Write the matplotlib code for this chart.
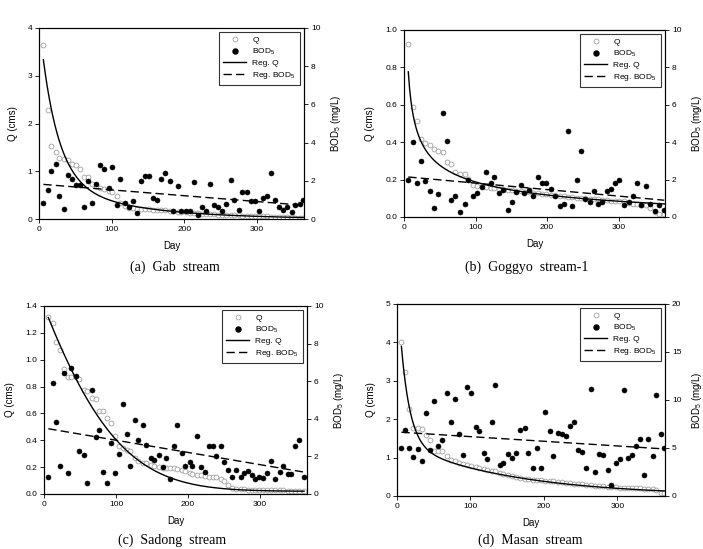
import numpy as np
import matplotlib
matplotlib.use("Agg")
import matplotlib.pyplot as plt
from matplotlib.lines import Line2D

plt.rcParams['font.family'] = ['Liberation Sans', 'DejaVu Sans']
plt.rcParams['mathtext.default'] = 'regular'

# (a) Gab stream
day_a = [6, 12, 17, 23, 28, 34, 40, 45, 51, 56, 62, 68, 73, 79, 84, 90, 96, 101, 107, 112,
         118, 124, 129, 135, 140, 146, 152, 157, 163, 168, 174, 180, 185, 191, 196, 202, 208,
         213, 219, 224, 230, 236, 241, 247, 252, 258, 264, 269, 275, 280, 286, 292, 297, 303,
         308, 314, 320, 325, 331, 336, 342, 348, 353, 359, 364]
q_a = [3.65, 2.28, 1.52, 1.40, 1.28, 1.26, 1.23, 1.16, 1.13, 1.05, 0.89, 0.89, 0.74, 0.70,
       0.65, 0.63, 0.58, 0.56, 0.49, 0.33, 0.28, 0.24, 0.22, 0.21, 0.20, 0.20, 0.20, 0.19,
       0.19, 0.18, 0.18, 0.17, 0.16, 0.15, 0.15, 0.14, 0.13, 0.13, 0.12, 0.11, 0.11, 0.10,
       0.10, 0.09, 0.09, 0.09, 0.08, 0.08, 0.08, 0.07, 0.07, 0.07, 0.06, 0.06, 0.06, 0.06,
       0.05, 0.05, 0.05, 0.04, 0.04, 0.04, 0.03, 0.03, 0.03]
bod_a = [0.84, 1.50, 2.53, 2.90, 1.22, 0.52, 2.32, 2.11, 1.80, 1.76, 0.61, 2.00, 0.82, 1.83,
         2.81, 2.62, 1.61, 2.72, 0.72, 2.11, 0.84, 0.61, 0.92, 0.31, 2.00, 2.23, 2.23, 1.12,
         1.01, 2.09, 2.41, 2.00, 0.40, 1.71, 0.40, 0.40, 0.40, 1.92, 0.23, 0.63, 0.40, 1.81,
         0.72, 0.63, 0.40, 0.80, 2.02, 1.01, 0.49, 1.41, 1.41, 0.92, 0.92, 0.40, 1.10, 1.22,
         2.41, 1.01, 0.63, 0.49, 0.63, 0.37, 0.72, 0.80, 1.01]

# (b) Goggyo stream-1
day_b = [6, 12, 18, 24, 30, 36, 42, 48, 54, 60, 66, 72, 78, 85, 90, 97, 102, 109, 114, 121,
         126, 133, 139, 145, 151, 157, 164, 168, 175, 181, 188, 193, 199, 206, 211, 218, 224,
         230, 235, 242, 247, 253, 260, 266, 272, 277, 284, 289, 295, 301, 308, 314, 320, 326,
         332, 339, 344, 351, 357, 364]
q_b = [0.925, 0.59, 0.516, 0.418, 0.395, 0.383, 0.365, 0.352, 0.347, 0.294, 0.281, 0.24,
       0.231, 0.228, 0.205, 0.17, 0.167, 0.164, 0.16, 0.157, 0.154, 0.151, 0.148, 0.145,
       0.143, 0.14, 0.137, 0.135, 0.132, 0.13, 0.127, 0.124, 0.121, 0.119, 0.116, 0.113,
       0.11, 0.108, 0.106, 0.104, 0.102, 0.10, 0.098, 0.096, 0.094, 0.092, 0.09, 0.088,
       0.086, 0.085, 0.083, 0.076, 0.07, 0.068, 0.066, 0.062, 0.05, 0.025, 0.018, 0.015]
bod_b = [1.99, 4.0, 1.81, 3.02, 1.92, 1.39, 0.50, 1.21, 5.57, 4.09, 0.89, 1.10, 0.28, 0.71,
         1.99, 1.10, 1.28, 1.60, 2.40, 1.81, 2.14, 1.28, 1.42, 0.39, 0.80, 1.33, 1.69, 1.28,
         1.42, 1.12, 2.14, 1.81, 1.81, 1.51, 1.10, 0.60, 0.71, 4.59, 0.60, 1.99, 3.52, 0.98,
         0.80, 1.39, 0.71, 0.80, 1.39, 1.51, 1.81, 1.99, 0.62, 0.80, 1.10, 1.81, 0.62, 1.64,
         0.71, 0.32, 0.62, 0.39]

# (c) Sadong stream
day_c = [6, 12, 17, 22, 28, 34, 38, 44, 49, 55, 60, 66, 72, 77, 82, 87, 93, 99, 104, 109,
         115, 120, 126, 131, 137, 142, 148, 153, 159, 165, 169, 175, 180, 185, 191, 196, 202,
         206, 212, 218, 223, 229, 234, 239, 245, 250, 256, 261, 267, 273, 278, 283, 288, 293,
         299, 304, 310, 315, 321, 327, 332, 338, 343, 349, 354, 361]
q_c = [1.32, 1.275, 1.135, 1.07, 0.93, 0.87, 0.87, 0.87, 0.86, 0.775, 0.77, 0.715, 0.705,
       0.62, 0.615, 0.565, 0.53, 0.43, 0.355, 0.345, 0.33, 0.32, 0.265, 0.245, 0.23, 0.23,
       0.215, 0.205, 0.2, 0.195, 0.19, 0.19, 0.19, 0.185, 0.18, 0.175, 0.16, 0.15, 0.145,
       0.14, 0.135, 0.13, 0.13, 0.125, 0.11, 0.1, 0.065, 0.045, 0.04, 0.035, 0.035, 0.033,
       0.032, 0.032, 0.03, 0.03, 0.03, 0.03, 0.028, 0.028, 0.027, 0.026, 0.025, 0.024,
       0.022, 0.02]
bod_c = [0.89, 5.91, 3.81, 1.51, 6.44, 1.10, 6.71, 6.30, 2.31, 2.08, 0.60, 5.52, 3.01, 3.42,
         1.19, 0.60, 2.70, 1.10, 2.12, 4.80, 3.20, 1.51, 3.91, 2.88, 3.68, 2.58, 1.90, 1.81,
         2.08, 1.41, 1.90, 0.80, 2.53, 3.68, 2.17, 1.51, 1.69, 1.51, 3.10, 1.41, 1.19, 2.53,
         2.53, 2.03, 2.53, 1.69, 1.28, 0.89, 1.28, 0.89, 1.10, 1.21, 1.01, 0.80, 0.93, 0.84,
         1.14, 1.78, 0.80, 1.19, 1.51, 1.07, 1.07, 2.53, 2.88, 0.89]

# (d) Masan stream
day_d = [6, 11, 17, 22, 28, 34, 39, 45, 50, 56, 61, 68, 73, 79, 84, 90, 95, 101, 107, 112,
         118, 123, 129, 134, 140, 145, 151, 156, 162, 168, 174, 179, 185, 191, 196, 202, 208,
         213, 219, 225, 230, 236, 241, 246, 252, 258, 264, 269, 275, 281, 287, 292, 298, 304,
         309, 314, 320, 326, 331, 337, 342, 348, 353, 359, 364]
q_d = [4.0, 3.22, 2.27, 1.77, 1.77, 1.75, 1.6, 1.47, 1.17, 1.16, 1.16, 1.03, 0.94, 0.90,
       0.86, 0.84, 0.81, 0.79, 0.76, 0.73, 0.70, 0.68, 0.66, 0.64, 0.60, 0.58, 0.55, 0.52,
       0.50, 0.47, 0.44, 0.43, 0.42, 0.42, 0.41, 0.40, 0.39, 0.38, 0.37, 0.36, 0.34, 0.33,
       0.32, 0.31, 0.30, 0.29, 0.28, 0.27, 0.26, 0.25, 0.24, 0.24, 0.23, 0.22, 0.22, 0.21,
       0.21, 0.20, 0.20, 0.19, 0.19, 0.18, 0.16, 0.08, 0.08]
bod_d = [5.05, 6.83, 5.05, 4.04, 4.91, 3.62, 8.64, 4.74, 9.86, 5.23, 5.85, 10.7, 7.67, 10.1,
         6.45, 4.25, 11.4, 10.7, 7.14, 6.79, 4.53, 3.83, 7.67, 11.6, 3.28, 3.48, 4.36, 3.94,
         4.46, 6.90, 7.07, 4.53, 2.96, 5.0, 2.9, 8.8, 6.8, 4.2, 6.55, 6.45, 6.27, 7.3, 7.67,
         4.74, 4.63, 2.9, 11.1, 2.54, 4.36, 4.29, 2.72, 1.15, 3.48, 3.83, 11.0, 3.94, 4.29,
         5.16, 5.96, 2.2, 5.96, 4.18, 10.56, 6.45, 4.98]

# regression coefficients
regq_a = (3.3, 0.043, 0.83, 0.009)        # a*exp(-b t) + c*exp(-d t)
regq_b = (1.77, -0.455, 0.0015)           # a * t**b * exp(-c t)
regq_c = (1.375, 0.009915, 2.84e-5, 0.02)  # a*exp(-b t - c t^2) + y0
regq_d = (4.17, 0.082, 1.40, 0.0065)      # a*exp(-b t) + c*exp(-d t)
regbod_a = (1.83, -0.00305)
regbod_b = (2.16, -0.00347)
regbod_c = (3.51, -0.0065)
regbod_d = (6.67, -0.00485)


def double_exp(t, p):
    return p[0]*np.exp(-p[1]*t) + p[2]*np.exp(-p[3]*t)


def power_exp(t, p):
    return p[0]*t**p[1]*np.exp(-p[2]*t)


def gauss_exp(t, p):
    return p[0]*np.exp(-p[1]*t - p[2]*t**2) + p[3]


panels = [
    dict(day=day_a, q=q_a, bod=bod_a, fq=lambda t: double_exp(t, regq_a), rb=regbod_a,
         qlim=(0, 4), qticks=[0, 1, 2, 3, 4], qfmt='%d', blim=(0, 10), bticks=[0, 2, 4, 6, 8, 10],
         pos=[39/703, 1-219/549, 265/703, 191/549], cap='(a)  Gab  stream', capxy=(175, 267)),
    dict(day=day_b, q=q_b, bod=bod_b, fq=lambda t: power_exp(t, regq_b), rb=regbod_b,
         qlim=(0, 1), qticks=[0, 0.2, 0.4, 0.6, 0.8, 1.0], qfmt='%.1f', blim=(0, 10),
         bticks=[0, 2, 4, 6, 8, 10],
         pos=[404/703, 1-217/549, 261/703, 187/549], cap='(b)  Goggyo  stream-1', capxy=(527, 267)),
    dict(day=day_c, q=q_c, bod=bod_c, fq=lambda t: gauss_exp(t, regq_c), rb=regbod_c,
         qlim=(0, 1.4), qticks=[0, 0.2, 0.4, 0.6, 0.8, 1.0, 1.2, 1.4], qfmt='%.1f', blim=(0, 10),
         bticks=[0, 2, 4, 6, 8, 10],
         pos=[44/703, 1-494/549, 263/703, 188/549], cap='(c)  Sadong  stream', capxy=(172, 540)),
    dict(day=day_d, q=q_d, bod=bod_d, fq=lambda t: double_exp(t, regq_d), rb=regbod_d,
         qlim=(0, 5), qticks=[0, 1, 2, 3, 4, 5], qfmt='%d', blim=(0, 20), bticks=[0, 5, 10, 15, 20],
         pos=[397/703, 1-496/549, 268/703, 192/549], cap='(d)  Masan  stream', capxy=(530, 540)),
]

fig = plt.figure(figsize=(7.03, 5.49), dpi=100)

for pn in panels:
    ax = fig.add_axes(pn['pos'])
    ax2 = ax.twinx()
    day = np.array(pn['day'], dtype=float)
    t = np.linspace(day[0], day[-1], 400)

    ax.plot(day, pn['q'], 'o', ms=3.5, mfc='white', mec='#a0a0a0', mew=0.6, zorder=2)
    ax.plot(t, pn['fq'](t), color='black', lw=1.0, zorder=3)
    ax2.plot(day, pn['bod'], 'o', ms=3.6, mfc='black', mec='black', mew=0.4, zorder=2)
    ax2.plot(t, pn['rb'][0] + pn['rb'][1]*t, color='black', lw=1.0, ls=(0, (6, 3)), zorder=3)

    ax.set_xlim(0, 365)
    ax.set_xticks([0, 100, 200, 300])
    ax.set_ylim(*pn['qlim'])
    ax.set_yticks(pn['qticks'])
    ax.set_yticklabels([pn['qfmt'] % v for v in pn['qticks']])
    ax2.set_ylim(*pn['blim'])
    ax2.set_yticks(pn['bticks'])

    for a in (ax, ax2):
        a.tick_params(direction='out', length=3, width=0.6, labelsize=6, pad=2)
        for s in a.spines.values():
            s.set_linewidth(0.8)
    ax.set_xlabel('Day', fontsize=7, labelpad=6)
    ax.set_ylabel('Q (cms)', fontsize=7, labelpad=7)
    ax2.set_ylabel('BOD$_5$ (mg/L)', fontsize=7, labelpad=6)

    handles = [
        Line2D([], [], ls='none', marker='o', ms=3.5, mfc='white', mec='#a0a0a0', mew=0.6),
        Line2D([], [], ls='none', marker='o', ms=3.6, mfc='black', mec='black'),
        Line2D([], [], color='black', lw=1.0),
        Line2D([], [], color='black', lw=1.0, ls=(0, (6, 3))),
    ]
    leg = ax2.legend(handles, ['Q', 'BOD$_5$', 'Reg. Q', 'Reg. BOD$_5$'], loc='upper right',
                     fontsize=6, frameon=True, fancybox=False, edgecolor='black',
                     handlelength=2.7, handletextpad=0.8, labelspacing=0.3, borderpad=0.5,
                     borderaxespad=0.5, numpoints=1)
    leg.get_frame().set_linewidth(0.8)

    fig.text(pn['capxy'][0]/703, 1 - pn['capxy'][1]/549, pn['cap'], ha='center', va='center',
             fontsize=10, family=['Liberation Serif', 'DejaVu Serif'])

fig.savefig('out.png', dpi=100)
